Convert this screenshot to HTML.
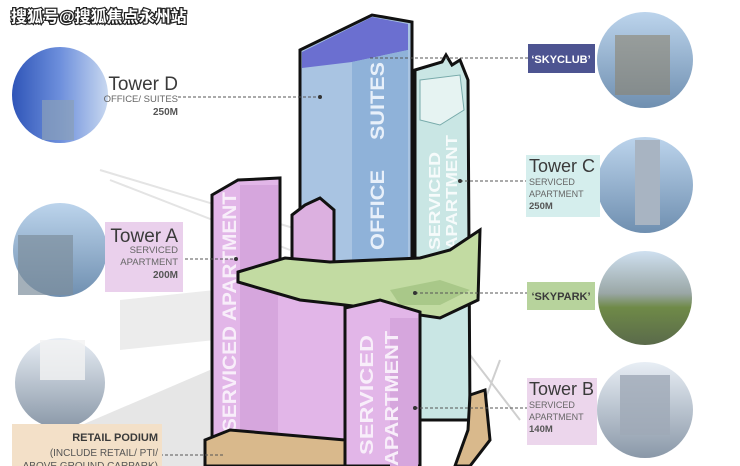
<!DOCTYPE html>
<html><head><meta charset="utf-8"><style>
html,body{margin:0;padding:0;background:#fff;width:740px;height:466px;overflow:hidden}
svg{display:block}
text{font-family:"Liberation Sans","Noto Sans CJK SC",sans-serif}
</style></head><body>
<svg width="740" height="466" viewBox="0 0 740 466" xmlns="http://www.w3.org/2000/svg">
<defs>
<linearGradient id="sky" x1="0" y1="0" x2="0" y2="1"><stop offset="0" stop-color="#bcd4ec"/><stop offset="1" stop-color="#6f8fb0"/></linearGradient>
<linearGradient id="blueg" x1="0" y1="0" x2="1" y2="0"><stop offset="0" stop-color="#2f55b8"/><stop offset="0.5" stop-color="#6d8fdc"/><stop offset="1" stop-color="#c8d8f0"/></linearGradient>
<linearGradient id="park" x1="0" y1="0" x2="0" y2="1"><stop offset="0" stop-color="#cfe0f0"/><stop offset="0.45" stop-color="#9aa7a6"/><stop offset="0.6" stop-color="#6f8a48"/><stop offset="1" stop-color="#5a6a4a"/></linearGradient>
<linearGradient id="bld" x1="0" y1="0" x2="0" y2="1"><stop offset="0" stop-color="#e8eef5"/><stop offset="1" stop-color="#8a98a8"/></linearGradient>
</defs>
<path d="M100 170 L300 230 M110 180 L290 250" stroke="#e4e4e4" stroke-width="2" fill="none"/>
<polygon points="120,300 215,290 215,340 120,350" fill="#ececec"/>
<polygon points="70,430 210,370 210,466 70,466" fill="#e6e6e6"/>
<path d="M470 355 L520 420 M500 360 L470 440" stroke="#cfcfcf" stroke-width="2"/>

<!-- Tower D -->
<polygon points="300,50 372,15 412,22 412,400 300,400" fill="#a9c4e2" stroke="#111" stroke-width="3"/>
<polygon points="302,52 372,17 408,24 408,50 352,62 302,68" fill="#6b6fd0"/>
<polygon points="352,62 408,50 408,330 352,330" fill="#8fb2d9"/>
<text transform="translate(384,140) rotate(-90)" font-size="19" fill="#e8f0fa" font-weight="bold" textLength="78" lengthAdjust="spacingAndGlyphs">SUITES</text>
<text transform="translate(384,250) rotate(-90)" font-size="19" fill="#e8f0fa" font-weight="bold" textLength="80" lengthAdjust="spacingAndGlyphs">OFFICE</text>

<!-- Tower C -->
<polygon points="415,70 442,62 446,55 452,65 460,60 468,80 470,420 415,420" fill="#c9e6e4" stroke="#111" stroke-width="3"/>
<polygon points="420,80 460,75 464,110 440,125 420,120" fill="#e6f3f2" stroke="#7aa" stroke-width="1"/>
<text transform="translate(440,250) rotate(-90)" font-size="16" fill="#f6fbfb" font-weight="bold" textLength="98" lengthAdjust="spacingAndGlyphs">SERVICED</text>
<text transform="translate(457,250) rotate(-90)" font-size="16" fill="#f6fbfb" font-weight="bold" textLength="115" lengthAdjust="spacingAndGlyphs">APARTMENT</text>

<!-- small pink tower -->
<polygon points="292,215 305,205 320,198 334,210 334,280 292,280" fill="#dcb0e0" stroke="#111" stroke-width="3"/>

<!-- Tower A -->
<polygon points="212,195 238,180 280,178 280,290 345,300 345,466 212,466" fill="#e2b6e8" stroke="#111" stroke-width="3"/>
<rect x="240" y="185" width="38" height="281" fill="#d6a6dd"/>
<text transform="translate(236,432) rotate(-90)" font-size="19" fill="#f8eefa" font-weight="bold" textLength="240" lengthAdjust="spacingAndGlyphs">SERVICED APARTMENT</text>

<!-- Skypark -->
<polygon points="238,272 285,258 330,262 420,258 450,250 480,230 478,300 440,318 400,312 345,305 300,300 238,282" fill="#c2dba2" stroke="#111" stroke-width="3"/>
<polygon points="390,290 440,280 470,290 440,305 400,305" fill="#a9c889"/>

<!-- Tower B -->
<polygon points="345,308 380,300 420,312 420,466 345,466" fill="#e2b6e8" stroke="#111" stroke-width="3"/>
<rect x="390" y="318" width="28" height="148" fill="#d6a6dd"/>
<text transform="translate(373,455) rotate(-90)" font-size="18" fill="#f8eefa" font-weight="bold" textLength="120" lengthAdjust="spacingAndGlyphs">SERVICED</text>
<text transform="translate(398,466) rotate(-90)" font-size="18" fill="#f8eefa" font-weight="bold" textLength="135" lengthAdjust="spacingAndGlyphs">APARTMENT</text>

<!-- Podium -->
<polygon points="205,440 230,430 345,440 345,466 205,466" fill="#d9b98c" stroke="#111" stroke-width="3"/>
<polygon points="470,395 485,390 490,440 470,466 455,466 468,430" fill="#d9b98c" stroke="#111" stroke-width="3"/>

<g stroke="#555" stroke-width="1" stroke-dasharray="3,2" fill="none">
<line x1="178" y1="97" x2="320" y2="97"/>
<line x1="370" y1="58" x2="528" y2="58"/>
<line x1="460" y1="181" x2="526" y2="181"/>
<line x1="185" y1="259" x2="236" y2="259"/>
<line x1="415" y1="293" x2="527" y2="293"/>
<line x1="415" y1="408" x2="527" y2="408"/>
<line x1="160" y1="455" x2="225" y2="455"/>
</g>
<g fill="#333"><circle cx="320" cy="97" r="2"/><circle cx="460" cy="181" r="2"/><circle cx="236" cy="259" r="2"/><circle cx="415" cy="293" r="2"/><circle cx="415" cy="408" r="2"/></g>

<circle cx="60" cy="95" r="48" fill="url(#blueg)"/>
<rect x="42" y="100" width="32" height="40" fill="#8aa0b8" opacity="0.7"/>
<circle cx="60" cy="250" r="47" fill="url(#sky)"/>
<rect x="18" y="235" width="55" height="60" fill="#7e8e9c" opacity="0.7"/>
<circle cx="60" cy="383" r="45" fill="url(#bld)"/>
<rect x="40" y="340" width="45" height="40" fill="#f2f2f2" opacity="0.8"/>

<circle cx="645" cy="60" r="48" fill="url(#sky)"/>
<rect x="615" y="35" width="55" height="60" fill="#8c8470" opacity="0.6"/>
<circle cx="645" cy="185" r="48" fill="url(#sky)"/>
<rect x="635" y="140" width="25" height="85" fill="#a8b4c2"/>
<circle cx="645" cy="298" r="47" fill="url(#park)"/>
<circle cx="645" cy="410" r="48" fill="url(#bld)"/>
<rect x="620" y="375" width="50" height="60" fill="#9fa9b6" opacity="0.8"/>

<text x="178" y="90" font-size="19" fill="#3a3a3a" text-anchor="end">Tower D</text>
<text x="178" y="102" font-size="9.5" fill="#666" text-anchor="end">OFFICE/ SUITES</text>
<text x="178" y="115" font-size="10" fill="#555" text-anchor="end" font-weight="bold">250M</text>

<rect x="105" y="222" width="78" height="70" fill="#ead0ec"/>
<text x="178" y="242" font-size="19" fill="#3a3a3a" text-anchor="end">Tower A</text>
<text x="178" y="253" font-size="9.5" fill="#666" text-anchor="end">SERVICED</text>
<text x="178" y="265" font-size="9.5" fill="#666" text-anchor="end">APARTMENT</text>
<text x="178" y="278" font-size="10" fill="#555" text-anchor="end" font-weight="bold">200M</text>

<rect x="12" y="424" width="150" height="42" fill="#f3e0c8"/>
<text x="158" y="441" font-size="11" fill="#3a3a3a" text-anchor="end" font-weight="bold">RETAIL PODIUM</text>
<text x="158" y="456" font-size="10" fill="#555" text-anchor="end">(INCLUDE RETAIL/ PTI/</text>
<text x="158" y="469" font-size="10" fill="#555" text-anchor="end">ABOVE GROUND CARPARK)</text>

<rect x="528" y="44" width="67" height="29" fill="#4d5491"/>
<text x="561" y="63" font-size="11" fill="#fff" text-anchor="middle" font-weight="bold">‘SKYCLUB’</text>

<rect x="526" y="155" width="74" height="62" fill="#d5eeed"/>
<text x="529" y="172" font-size="18" fill="#3a3a3a">Tower C</text>
<text x="529" y="185" font-size="9" fill="#666">SERVICED</text>
<text x="529" y="197" font-size="9" fill="#666">APARTMENT</text>
<text x="529" y="209" font-size="9.5" fill="#555" font-weight="bold">250M</text>

<rect x="527" y="282" width="68" height="28" fill="#b7d39c"/>
<text x="561" y="300" font-size="11" fill="#3a3a3a" text-anchor="middle" font-weight="bold">‘SKYPARK’</text>

<rect x="527" y="378" width="70" height="67" fill="#ecd6ec"/>
<text x="529" y="395" font-size="18" fill="#3a3a3a">Tower B</text>
<text x="529" y="408" font-size="9" fill="#666">SERVICED</text>
<text x="529" y="420" font-size="9" fill="#666">APARTMENT</text>
<text x="529" y="432" font-size="9.5" fill="#555" font-weight="bold">140M</text>

<text x="11" y="22" font-size="16" fill="#fff" stroke="#222" stroke-width="2.5" paint-order="stroke" font-weight="bold">搜狐号@搜狐焦点永州站</text>
</svg>
</body></html>
